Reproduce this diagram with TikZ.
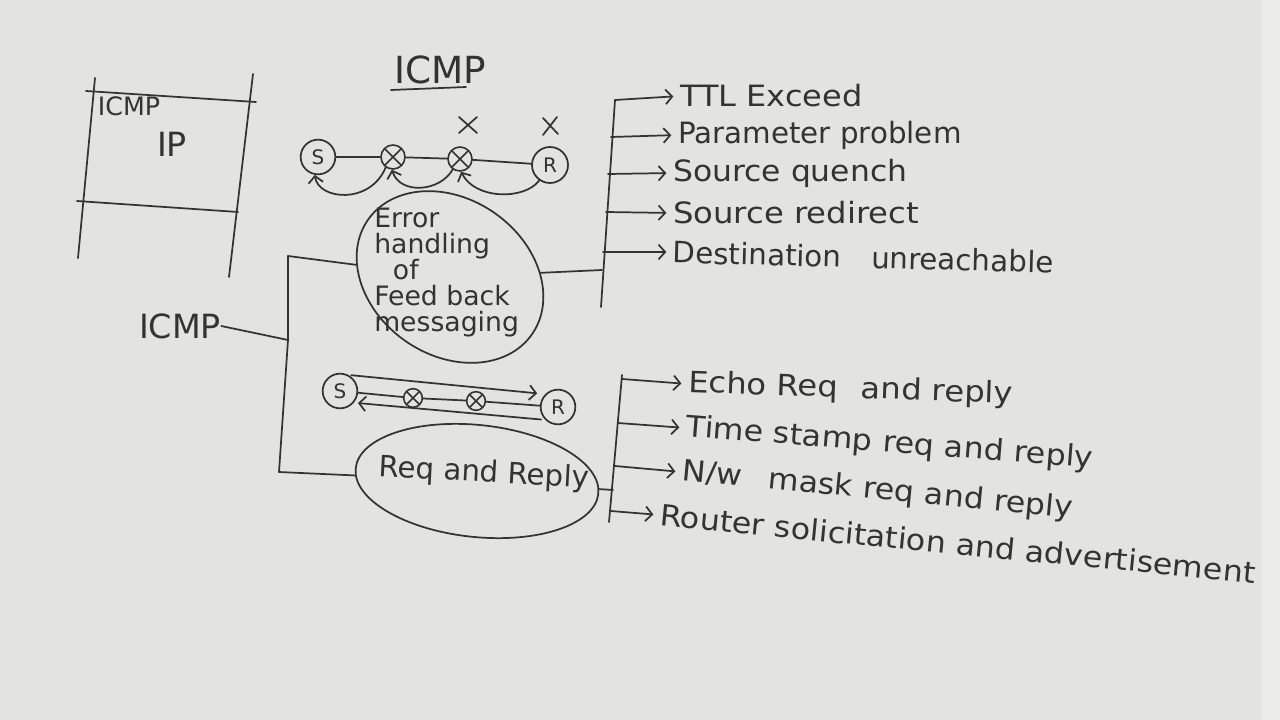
\documentclass[tikz,border=0pt]{standalone}
\usepackage{fontspec}
\setmainfont{DejaVu Sans}
\usetikzlibrary{shapes.geometric,arrows.meta}
\definecolor{board}{HTML}{E3E3E1}
\definecolor{boardedge}{HTML}{ECECEA}
\definecolor{ink}{HTML}{333333}
\tikzset{
  pen/.style={draw=ink, line width=1.3pt, line cap=round, line join=round},
  tip/.style={-{Straight Barb[length=5pt,width=11pt,line width=1.3pt]}},
  hw/.style={text=ink, inner sep=0pt, font=\fontsize{22}{24}\selectfont},
  item/.style={hw, anchor=west},
  host/.style={circle, draw=ink, line width=1.3pt, minimum size=26pt, inner sep=0pt,
    text=ink, font=\fontsize{15}{15}\selectfont},
  rtr/.style={circle, draw=ink, line width=1.2pt, minimum size=#1, inner sep=0pt,
    path picture={\draw[ink,line width=1.1pt]
      (path picture bounding box.north west) -- (path picture bounding box.south east)
      (path picture bounding box.north east) -- (path picture bounding box.south west);}},
  bubble/.style={ellipse, draw=ink, line width=1.3pt, inner sep=0pt},
}
\begin{document}
\begin{tikzpicture}[x=0.75pt,y=-0.75pt]
\fill[board] (0,0) rectangle (1280,720);
\fill[boardedge] (1262,0) rectangle (1280,720);
\useasboundingbox (0,0) rectangle (1280,720);

% protocol stack sketch
\draw[pen] (95,78) -- (78,258);
\draw[pen] (253,74) -- (229,277);
\draw[pen] (86,91) -- (256,102);
\draw[pen] (77,201) -- (238,212);
\node[hw, font=\fontsize{19}{19}\selectfont] (stk1) at (129,106) {ICMP};
\node[hw, font=\fontsize{25}{25}\selectfont] (stk2) at (172,144) {IP};

% title
\node[hw, font=\fontsize{28}{28}\selectfont] (title) at (440,70) {ICMP};
\draw[pen] (391,90) -- (466,87);

% top network (error feedback)
\node[host] (S1) at (318,157) {S};
\node[rtr=18pt] (X1) at (393,157) {};
\node[rtr=18pt] (X2) at (460,159) {};
\node[host, minimum size=27pt] (R1) at (550,165) {R};
\draw[pen] (S1) -- (X1) -- (X2) -- (R1);
\draw[pen] (459,117) -- (477,133) (477,117) -- (459,133);
\draw[pen] (543,118) -- (558,134) (557,117) -- (543,135);
\draw[pen,tip] (R1.235) .. controls (525,200) and (475,200) .. (X2.-85);
\draw[pen,tip] (X2.235) .. controls (440,192) and (400,195) .. (X1.-95);
\draw[pen,tip] (X1.235) .. controls (370,205) and (318,200) .. (S1.-100);

% error handling bubble
\node[bubble, minimum width=150pt, minimum height=117pt, rotate=-35] (err) at (450,277) {};
\node[hw, font=\fontsize{20}{19.5}\selectfont, align=left, anchor=north west] (errtxt)
  at (374,208) {Error\\handling\\\hspace*{0.7em}of\\Feed back\\messaging};

% ICMP root and left bracket
\node[hw, font=\fontsize{25}{25}\selectfont] (icmp) at (180,326) {ICMP};
\coordinate (lT) at (288,256);
\coordinate (lM) at (288,340);
\coordinate (lB) at (279,472);
\draw[pen] (icmp.east) -- (lM);
\draw[pen] (lT) -- (lM) -- (lB);
\draw[pen] (lT) -- (err);

% request / reply network
\node[host] (S2) at (340,391) {S};
\node[host] (R2) at (558,407) {R};
\node[rtr=14pt] (Y1) at (413,398) {};
\node[rtr=14pt] (Y2) at (476,401) {};
\draw[pen] (S2) -- (Y1) -- (Y2) -- (R2);
\draw[pen,tip,shorten <=2pt,shorten >=6pt] (S2.62) -- (R2.135);
\draw[pen,tip,shorten <=3pt,shorten >=3pt] (R2.225) -- (S2.-40);

% request and reply bubble
\node[bubble, minimum width=183pt, minimum height=84pt, rotate=-6] (rq) at (477,481) {};
\node[hw, rotate=-3] (rqtxt) at (484,474) {Req and Reply};
\draw[pen] (lB) -- (rq);

% error message list
\coordinate (tA) at (615,100);
\coordinate (tB) at (611,137);
\coordinate (tC) at (608,174);
\coordinate (tD) at (606,212);
\coordinate (tE) at (603,252);
\coordinate (tJ) at (602,270);
\coordinate (tZ) at (601,307);
\draw[pen] (tA) -- (tZ);
\draw[pen] (err) -- (tJ);
\node[item, xscale=1.09] (ttl) at (680,96) {TTL Exceed};
\node[item] (par) at (678,135) {Parameter problem};
\node[item, xscale=1.07] (sq) at (673,173) {Source quench};
\node[item, xscale=1.1] (sr) at (673,213) {Source redirect};
\node[item, rotate=-1.5] (du) at (673,252) {Destination\hspace{0.7em} unreachable};
\draw[pen,tip,shorten >=5pt] (tA) -- (ttl.west);
\draw[pen,tip,shorten >=5pt] (tB) -- (par.west);
\draw[pen,tip,shorten >=5pt] (tC) -- (sq.west);
\draw[pen,tip,shorten >=5pt] (tD) -- (sr.west);
\draw[pen,tip,shorten >=5pt] (tE) -- (du.west);

% query message list
\coordinate (bTop) at (622,375);
\coordinate (bA) at (622,379);
\coordinate (bB) at (618,423);
\coordinate (bC) at (615,466);
\coordinate (bJ) at (613,490);
\coordinate (bD) at (611,511);
\coordinate (bZ) at (609,522);
\draw[pen] (bTop) -- (bZ);
\draw[pen] (rq) -- (bJ);
\node[item, rotate=-2, xscale=1.1] (echo) at (688,384) {Echo Req\hspace{0.4em} and reply};
\node[item, rotate=-4.5, xscale=1.08] (tstamp) at (686,428) {Time stamp req and reply};
\node[item, rotate=-5.5, xscale=1.08] (mask) at (682,472) {N/w\hspace{0.5em} mask req and reply};
\node[item, rotate=-5.5, xscale=1.08] (router) at (660,515) {Router solicitation and advertisement};
\draw[pen,tip,shorten >=5pt] (bA) -- (echo.west);
\draw[pen,tip,shorten >=5pt] (bB) -- (tstamp.west);
\draw[pen,tip,shorten >=5pt] (bC) -- (mask.west);
\draw[pen,tip,shorten >=5pt] (bD) -- (router.west);
\end{tikzpicture}
\end{document}
